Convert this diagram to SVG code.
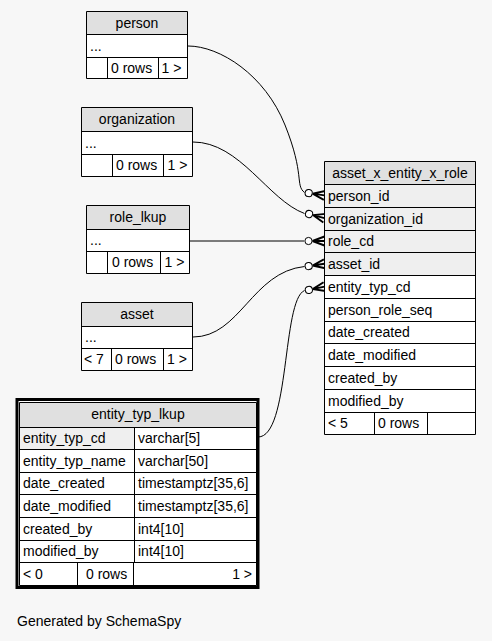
<svg xmlns="http://www.w3.org/2000/svg" width="492" height="641" viewBox="0 0 492 641">
<defs>
<style>
text{font-family:"Liberation Sans",Arial,Helvetica,sans-serif;font-size:14px;fill:#000}
.hd{fill:#e0e0e0}
.bd{fill:#ffffff}
.fk{fill:#efefef}
.ln{stroke:#000;stroke-width:1;fill:none}
.c{text-anchor:middle}
.r{text-anchor:end}
.edge{stroke:#000;stroke-width:1;fill:none}
</style>
<g id="crow">
<path d="M-12,0 L0,-4.5 M-12,0 L0,0 M-12,0 L0,4.5" stroke="#000" stroke-width="1.9" fill="none"/>
<circle cx="-16" cy="0" r="3.6" fill="#fff" stroke="#000" stroke-width="1"/>
</g>
</defs>
<rect width="492" height="641" fill="#f7f7f7"/>

<g id="connectors">
<path class="edge" d="M188,46 C220,46 265,75 285,125 S295,185 304.5,192.5"/>
<path class="edge" d="M193,142 C240,142 268,200 304.5,213.5"/>
<path class="edge" d="M190,241 L304,241"/>
<path class="edge" d="M193,337 C240,337 252,272 304.5,266.5"/>
<path class="edge" d="M258,437 C290,437 282,300 304.5,290.5"/>
<use href="#crow" transform="translate(324.5,195.4) rotate(8.5)"/>
<use href="#crow" transform="translate(324.5,218.2) rotate(15)"/>
<use href="#crow" transform="translate(324.5,241) rotate(0)"/>
<use href="#crow" transform="translate(324.5,263.8) rotate(-8)"/>
<use href="#crow" transform="translate(324.5,286.6) rotate(-12)"/>
</g>

<g id="person">
<rect class="hd" x="86.5" y="11.5" width="101" height="23"/>
<rect class="bd" x="86.5" y="34.5" width="101" height="22.5"/>
<rect class="bd" x="86.5" y="57" width="101" height="22"/>
<path class="ln" d="M86.5,11.5 H187.5 V78.5 H86.5 Z M86.5,34.5 H187.5 M86.5,57.5 H187.5 M107.5,57.5 V78.5 M158.5,57.5 V78.5"/>
<text class="c" x="137" y="28">person</text>
<text x="90" y="51">...</text>
<text x="111" y="73">0 rows</text>
<text x="161.5" y="73">1 &gt;</text>
</g>

<g id="organization">
<rect class="hd" x="81.5" y="107.5" width="111" height="24"/>
<rect class="bd" x="81.5" y="131.5" width="111" height="23"/>
<rect class="bd" x="81.5" y="154.5" width="111" height="22"/>
<path class="ln" d="M81.5,107.5 H192.5 V176.5 H81.5 Z M81.5,131.5 H192.5 M81.5,154.5 H192.5 M112.5,154.5 V176.5 M163.5,154.5 V176.5"/>
<text class="c" x="137" y="124">organization</text>
<text x="85" y="148">...</text>
<text x="116" y="170">0 rows</text>
<text x="167.5" y="170">1 &gt;</text>
</g>

<g id="role_lkup">
<rect class="hd" x="86.5" y="205.5" width="103" height="24"/>
<rect class="bd" x="86.5" y="229.5" width="103" height="22"/>
<rect class="bd" x="86.5" y="251.5" width="103" height="22"/>
<path class="ln" d="M86.5,205.5 H189.5 V273.5 H86.5 Z M86.5,229.5 H189.5 M86.5,251.5 H189.5 M107.5,251.5 V273.5 M160.5,251.5 V273.5"/>
<text class="c" x="138" y="222">role_lkup</text>
<text x="90" y="245">...</text>
<text x="112" y="267">0 rows</text>
<text x="164.5" y="267">1 &gt;</text>
</g>

<g id="asset">
<rect class="hd" x="81.5" y="302.5" width="111" height="24"/>
<rect class="bd" x="81.5" y="326.5" width="111" height="22"/>
<rect class="bd" x="81.5" y="348.5" width="111" height="22"/>
<path class="ln" d="M81.5,302.5 H192.5 V370.5 H81.5 Z M81.5,326.5 H192.5 M81.5,348.5 H192.5 M111.5,348.5 V370.5 M163.5,348.5 V370.5"/>
<text class="c" x="137" y="319">asset</text>
<text x="85" y="342">...</text>
<text x="84" y="364">&lt; 7</text>
<text x="115" y="364">0 rows</text>
<text x="167" y="364">1 &gt;</text>
</g>

<g id="asset_x_entity_x_role">
<rect class="hd" x="324.5" y="161.5" width="151" height="23"/>
<rect class="fk" x="324.5" y="184.5" width="151" height="91"/>
<rect class="bd" x="324.5" y="275.5" width="151" height="159"/>
<path class="ln" d="M324.5,161.5 H475.5 V434.5 H324.5 Z M324.5,184.5 H475.5 M324.5,207.5 H475.5 M324.5,230.5 H475.5 M324.5,252.5 H475.5 M324.5,275.5 H475.5 M324.5,298.5 H475.5 M324.5,321.5 H475.5 M324.5,343.5 H475.5 M324.5,366.5 H475.5 M324.5,389.5 H475.5 M324.5,412.5 H475.5 M374.5,412.5 V434.5 M427.5,412.5 V434.5"/>
<text class="c" x="400" y="178">asset_x_entity_x_role</text>
<text x="328" y="201">person_id</text>
<text x="328" y="224">organization_id</text>
<text x="328" y="246">role_cd</text>
<text x="328" y="269">asset_id</text>
<text x="328" y="292">entity_typ_cd</text>
<text x="328" y="315">person_role_seq</text>
<text x="328" y="337">date_created</text>
<text x="328" y="360">date_modified</text>
<text x="328" y="383">created_by</text>
<text x="328" y="406">modified_by</text>
<text x="328" y="428">&lt; 5</text>
<text x="378" y="428">0 rows</text>
</g>

<g id="entity_typ_lkup">
<rect x="17" y="399.5" width="241" height="188" fill="#ffffff" stroke="#000" stroke-width="3"/>
<rect class="hd" x="19.5" y="402.5" width="237" height="24.5"/>
<rect class="fk" x="19.5" y="427" width="115" height="22.5"/>
<path class="ln" d="M19.5,402.5 H256.5 V585.5 H19.5 Z M19.5,427.5 H256.5 M19.5,449.5 H256.5 M19.5,472.5 H256.5 M19.5,494.5 H256.5 M19.5,517.5 H256.5 M19.5,540.5 H256.5 M19.5,562.5 H256.5 M134.5,427.5 V562.5 M77.5,562.5 V585.5 M133.5,562.5 V585.5"/>
<text class="c" x="138" y="419">entity_typ_lkup</text>
<text x="23" y="443">entity_typ_cd</text>
<text x="138" y="443">varchar[5]</text>
<text x="23" y="466">entity_typ_name</text>
<text x="138" y="466">varchar[50]</text>
<text x="23" y="488">date_created</text>
<text x="138" y="488">timestamptz[35,6]</text>
<text x="23" y="511">date_modified</text>
<text x="138" y="511">timestamptz[35,6]</text>
<text x="23" y="534">created_by</text>
<text x="138" y="534">int4[10]</text>
<text x="23" y="556">modified_by</text>
<text x="138" y="556">int4[10]</text>
<text x="23" y="579">&lt; 0</text>
<text x="86" y="579">0 rows</text>
<text class="r" x="252" y="579">1 &gt;</text>
</g>

<text x="17" y="626">Generated by SchemaSpy</text>
</svg>
